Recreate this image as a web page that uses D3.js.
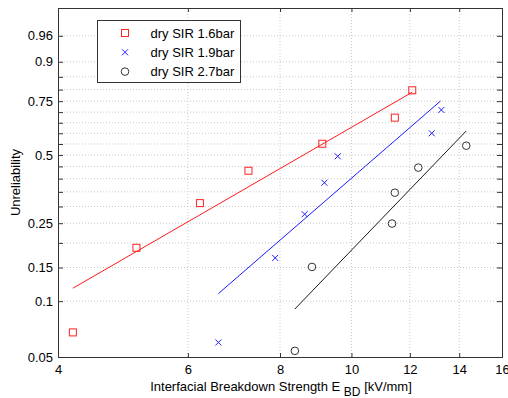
<!DOCTYPE html>
<html>
<head>
<meta charset="utf-8">
<script src="https://cdn.jsdelivr.net/npm/d3@7"></script>
<style>
  body { margin: 0; background: #fff; }
  text { font-family: "Liberation Sans", Arial, sans-serif; }
</style>
</head>
<body>
<div id="chart"></div>
<script>
// breakdown strengths [kV/mm] and cumulative probabilities
const sir16X = [4.19, 5.11, 6.23, 7.25, 9.13, 11.45, 12.09];
const sir16F = [0.068, 0.189, 0.311, 0.432, 0.551, 0.674, 0.797];
const sir19X = [6.60, 7.88, 8.64, 9.19, 9.58, 12.85, 13.24];
const sir19F = [0.060, 0.168, 0.276, 0.384, 0.494, 0.600, 0.710];
const sir27X = [8.38, 8.84, 11.35, 11.45, 12.32, 14.31];
const sir27F = [0.054, 0.151, 0.249, 0.347, 0.445, 0.542];

// fitted Weibull lines (start/end points)
const fit16X = [4.19, 12.09], fit16F = [0.117, 0.789];
const fit19X = [6.60, 13.21], fit19F = [0.1096, 0.751];
const fit27X = [8.38, 14.31], fit27F = [0.0908, 0.611];

const seriesNames = ['dry SIR 1.6bar', 'dry SIR 1.9bar', 'dry SIR 2.7bar'];
const xTicks = [4, 6, 8, 10, 12, 14, 16];
const yGrid = [0.1, 0.15, 0.2, 0.25, 0.3, 0.35, 0.4, 0.45, 0.5, 0.55, 0.6, 0.65, 0.7, 0.75, 0.8, 0.85, 0.9, 0.96];
const yLabels = [0.05, 0.1, 0.15, 0.25, 0.5, 0.75, 0.9, 0.96];

const margin = { top: 8, right: 6, bottom: 41, left: 58 };
const width = 508 - margin.left - margin.right;
const height = 398 - margin.top - margin.bottom;

const svg = d3.select('#chart').append('svg')
  .attr('width', 508)
  .attr('height', 398);

const g = svg.append('g')
  .attr('transform', `translate(${margin.left},${margin.top})`);

// Weibull probability scale: ln(-ln(1-F))
const wb = F => Math.log(-Math.log(1 - F));

const x = d3.scaleLog().domain([4, 16]).range([0, width]);
const y = d3.scaleLinear().domain([wb(0.05), wb(0.99)]).range([height, 0]);
const yF = F => y(wb(F));

// gridlines
g.append('g').selectAll('line')
  .data(xTicks.slice(1, -1))
  .enter().append('line')
  .attr('x1', d => x(d)).attr('x2', d => x(d))
  .attr('y1', 0).attr('y2', height)
  .attr('stroke', '#c8c8c8').attr('stroke-dasharray', '1,2');

g.append('g').selectAll('line')
  .data(yGrid)
  .enter().append('line')
  .attr('x1', 0).attr('x2', width)
  .attr('y1', d => yF(d)).attr('y2', d => yF(d))
  .attr('stroke', '#c8c8c8').attr('stroke-dasharray', '1,2');

// axes (ticks pointing inward)
const fmt = w => {
  const F = 1 - Math.exp(-Math.exp(w));
  const hit = yLabels.find(v => Math.abs(v - F) < 1e-6);
  return hit === undefined ? '' : String(hit);
};
const yTickVals = [0.05].concat(yGrid).map(wb);

const xAxis = g.append('g')
  .attr('transform', `translate(0,${height})`)
  .call(d3.axisBottom(x).tickValues(xTicks).tickFormat(d3.format('d')).tickSize(-4).tickPadding(8));
const xTop = g.append('g')
  .call(d3.axisTop(x).tickValues(xTicks).tickFormat('').tickSize(-4));
const yAxis = g.append('g')
  .call(d3.axisLeft(y).tickValues(yTickVals).tickFormat(fmt).tickSize(-5).tickPadding(5));
const yRight = g.append('g')
  .attr('transform', `translate(${width},0)`)
  .call(d3.axisRight(y).tickValues(yTickVals).tickFormat('').tickSize(-5));

[xAxis, xTop, yAxis, yRight].forEach(a => {
  a.select('.domain').attr('stroke', '#333').attr('stroke-width', 1);
  a.selectAll('.tick line').attr('stroke', '#333');
  a.selectAll('.tick text').attr('fill', '#000').attr('font-size', '13px')
    .attr('font-family', '"Liberation Sans", Arial, sans-serif');
});

// fitted lines
const line = d3.line().x(d => x(d[0])).y(d => yF(d[1]));
const fits = [
  { xs: fit16X, fs: fit16F, color: '#ff0000' },
  { xs: fit19X, fs: fit19F, color: '#0000ff' },
  { xs: fit27X, fs: fit27F, color: '#000000' }
];
fits.forEach(f => {
  g.append('path')
    .datum(f.xs.map((v, i) => [v, f.fs[i]]))
    .attr('d', line)
    .attr('fill', 'none')
    .attr('stroke', f.color)
    .attr('stroke-width', 0.9);
});

// markers
function drawSquare(sel, cx, cy) {
  sel.append('rect')
    .attr('x', cx - 3.5).attr('y', cy - 3.5)
    .attr('width', 7).attr('height', 7)
    .attr('fill', 'none').attr('stroke', '#ff2020').attr('stroke-width', 1);
}
function drawCross(sel, cx, cy) {
  sel.append('path')
    .attr('d', `M${cx - 3},${cy - 3}L${cx + 3},${cy + 3}M${cx - 3},${cy + 3}L${cx + 3},${cy - 3}`)
    .attr('stroke', '#2020ff').attr('stroke-width', 1);
}
function drawCircle(sel, cx, cy) {
  sel.append('circle')
    .attr('cx', cx).attr('cy', cy).attr('r', 3.8)
    .attr('fill', 'none').attr('stroke', '#333').attr('stroke-width', 1);
}

const pts = g.append('g');
sir16X.forEach((v, i) => drawSquare(pts, x(v), yF(sir16F[i])));
sir19X.forEach((v, i) => drawCross(pts, x(v), yF(sir19F[i])));
sir27X.forEach((v, i) => drawCircle(pts, x(v), yF(sir27F[i])));

// legend
const legend = svg.append('g').attr('transform', 'translate(97.5,20.5)');
legend.append('rect')
  .attr('width', 143).attr('height', 62)
  .attr('fill', '#fff').attr('stroke', '#333').attr('stroke-width', 1);
const markers = [drawSquare, drawCross, drawCircle];
seriesNames.forEach((name, i) => {
  const ly = 12.5 + i * 19.3;
  markers[i](legend, 27.5, ly);
  legend.append('text')
    .attr('x', 53).attr('y', ly)
    .attr('dy', '0.35em')
    .attr('font-size', '13px')
    .text(name);
});

// axis titles
svg.append('text')
  .attr('transform', `translate(20,${margin.top + height / 2}) rotate(-90)`)
  .attr('text-anchor', 'middle')
  .attr('font-size', '13px')
  .text('Unreliability');

const xl = svg.append('text')
  .attr('x', margin.left + width / 2 + 1)
  .attr('y', 391)
  .attr('text-anchor', 'middle')
  .attr('font-size', '13px');
xl.append('tspan').text('Interfacial Breakdown Strength E ');
xl.append('tspan').attr('font-size', '12px').attr('dy', 5).text('BD');
xl.append('tspan').attr('dy', -5).text(' [kV/mm]');
</script>
</body>
</html>
